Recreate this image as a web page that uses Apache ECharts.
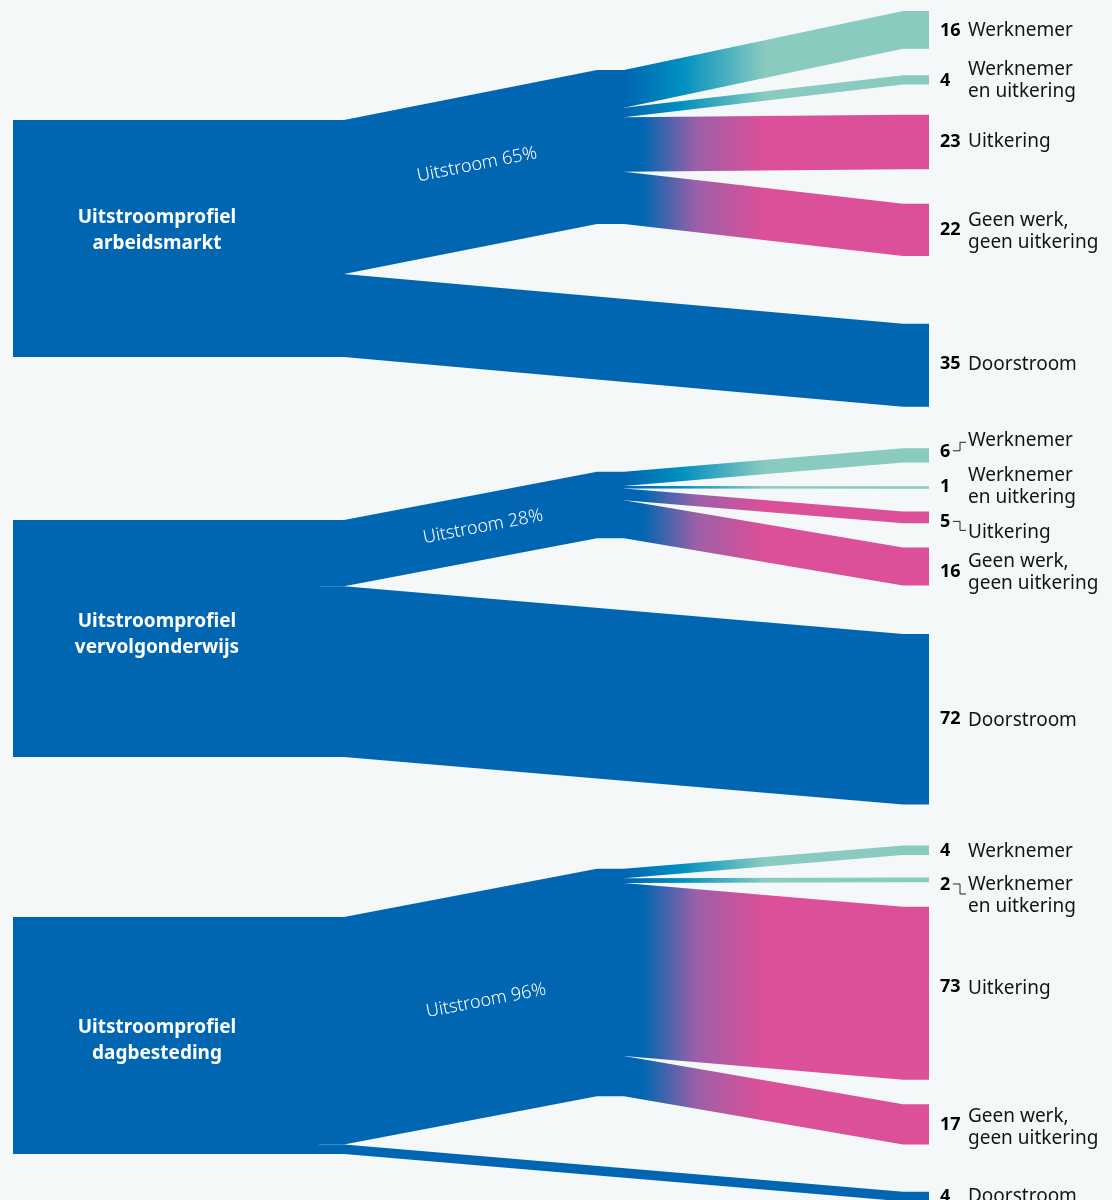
<!DOCTYPE html>
<html>
<head>
<meta charset="utf-8">
<script src="https://cdn.jsdelivr.net/npm/echarts@6/dist/echarts.min.js"></script>
<style>
html,body{margin:0;padding:0;background:#f4f8f9;}
#chart{width:1112px;height:1200px;}
</style>
</head>
<body>
<div id="chart"></div>
<script>
// ---------------- DATA ----------------
const profiles = ['Uitstroomprofiel\narbeidsmarkt', 'Uitstroomprofiel\nvervolgonderwijs', 'Uitstroomprofiel\ndagbesteding'];
const outcomes = ['Werknemer', 'Werknemer\nen uitkering', 'Uitkering', 'Geen werk,\ngeen uitkering', 'Doorstroom'];
const uitstroomPct = [65, 28, 96];
const arbeidsmarkt = [16, 4, 23, 22, 35];
const vervolgonderwijs = [6, 1, 5, 16, 72];
const dagbesteding = [4, 2, 73, 17, 4];
const panelValues = [arbeidsmarkt, vervolgonderwijs, dagbesteding];

// ---------------- LAYOUT / STYLE ----------------
const W = 1112, H = 1200;
const PX_PER_PT = 2.37;               // vertical scale: px per percentage point
const X = {left0: 13, left1: 319, stubL: 25, mid0: 597, mid1: 624, right: 929, stubR: 26,
           num: 940, name: 968, profLabel: 157, uitLabel: 480, conn0: 953, conn1: 960, conn2: 966};
const panelLayout = [
  {top: 50.6, midOff: -21.1, rightOff: -46.0, gaps: [11.1, 12.7, 14.6, 28.6], profDy: -8, uitDx: -3, uitDy: -6,
   numDy: [1, 1, 0, 0, -1], nameDy: [1, 1, 0, 2, -1], connectors: []},
  {top: 219.4, midOff: -20.3, rightOff: -30.3, gaps: [10.1, 9.6, 10.2, 20.5], profDy: -4, uitDx: 3, uitDy: 0,
   numDy: [-3.5, -1, 5, 5, 0], nameDy: [-15, -0.5, 15, 6, 1], connectors: [0, 2]},
  {top: 386.9, midOff: -20.3, rightOff: -30.1, gaps: [9.5, 10.3, 10.3, 20.0], profDy: 5, uitDx: 6, uitDy: -3,
   numDy: [1, 5, -6, 1, 0], nameDy: [1, 16, -5, 3, 0], connectors: [1]}
];
const outcomeStyle = [1, 1, 2, 2, 0];   // 0 blue, 1 teal gradient, 2 pink gradient
const COLORS = {blue: '#0066b2', teal: '#89cbbf', pink: '#dc4f99', bg: '#f4f8f9', text: '#141414'};
const GRAD = {
  1: {x0: 626, x1: 765, stops: [[0, '#0066b2'], [0.4, '#0090c0'], [1, '#89cbbf']]},
  2: {x0: 642, x1: 762, stops: [[0, '#0066b2'], [0.45, '#9b60a8'], [1, '#dc4f99']]}
};
const FONT = '"Noto Sans", "Open Sans", sans-serif';

// ---------------- BUILD ELEMENTS FROM DATA ----------------
const nodes = [];   // [x0, y0, x1, y1]
const links = [];   // [sx, ss, s0, s1, tx, ts, t0, t1, style]
const labels = [];  // descriptors

panelValues.forEach((vals, p) => {
  const L = panelLayout[p];
  const total = vals.reduce((a, b) => a + b, 0);
  const uit = uitstroomPct[p];
  const top = L.top;
  const midTop = top + L.midOff;
  nodes.push([X.left0, top, X.left1, top + total]);
  nodes.push([X.mid0, midTop, X.mid1, midTop + uit]);
  // left -> mid (Uitstroom)
  links.push([X.left1, X.stubL, top, top + uit, X.mid0, 0, midTop, midTop + uit, 0]);
  // right nodes
  let rTop = top + L.rightOff;
  let midCum = midTop;
  vals.forEach((v, i) => {
    if (i < 4) {
      links.push([X.mid1, 0, midCum, midCum + v, X.right, X.stubR, rTop, rTop + v, outcomeStyle[i]]);
      midCum += v;
    } else {
      links.push([X.left1, X.stubL, top + uit, top + total, X.right, X.stubR, rTop, rTop + v, outcomeStyle[i]]);
    }
    const c = rTop + v / 2;
    labels.push({kind: 'num', x: X.num, y: c, dy: L.numDy[i], text: String(v)});
    labels.push({kind: 'name', x: X.name, y: c, dy: L.nameDy[i], text: outcomes[i]});
    if (L.connectors.indexOf(i) >= 0) {
      labels.push({kind: 'conn', x: X.conn0, y: c, dyA: L.numDy[i], dyB: L.nameDy[i]});
    }
    rTop += v + (i < 4 ? L.gaps[i] : 0);
  });
  // profile label
  labels.push({kind: 'prof', x: X.profLabel, y: top + total / 2, dy: L.profDy, text: profiles[p]});
  // uitstroom label along the link
  const ax = X.left1 + X.stubL, bx = X.mid0;
  const lx = X.uitLabel + L.uitDx;
  const f = (lx - ax) / (bx - ax);
  const ly = (top + uit / 2) + f * ((midTop + uit / 2) - (top + uit / 2));
  labels.push({kind: 'uit', x: lx, y: ly, dy: L.uitDy, text: 'Uitstroom ' + uit + '%',
               a: [ax, top], b: [bx, midTop]});
});

// ---------------- RENDER ----------------
function gradFill(api, g) {
  const gx0 = api.coord([g.x0, 0])[0], gx1 = api.coord([g.x1, 0])[0];
  return {type: 'linear', x: gx0, y: 0, x2: gx1, y2: 0, global: true,
          colorStops: g.stops.map(s => ({offset: s[0], color: s[1]}))};
}

function renderLink(params, api) {
  const v = k => api.value(k);
  const sx = v(0), ss = v(1), s0 = v(2), s1 = v(3), tx = v(4), ts = v(5), t0 = v(6), t1 = v(7), st = v(8);
  const c = (x, y) => api.coord([x, y]);
  const points = [c(sx, s0), c(sx + ss, s0), c(tx - ts, t0), c(tx, t0),
                  c(tx, t1), c(tx - ts, t1), c(sx + ss, s1), c(sx, s1)];
  const fill = st === 0 ? COLORS.blue : gradFill(api, GRAD[st]);
  return {type: 'polygon', shape: {points: points}, style: {fill: fill, stroke: null}};
}

function renderNode(params, api) {
  const a = api.coord([api.value(0), api.value(1)]);
  const b = api.coord([api.value(2), api.value(3)]);
  return {type: 'rect', shape: {x: a[0], y: a[1], width: b[0] - a[0], height: b[1] - a[1]},
          style: {fill: COLORS.blue}};
}

function renderLabel(params, api) {
  const d = labels[params.dataIndex];
  const p = api.coord([api.value(0), api.value(1)]);
  if (d.kind === 'num') {
    return {type: 'text', x: p[0], y: p[1] + d.dy,
            style: {text: d.text, fill: '#000', fontFamily: FONT, fontWeight: 'bold', fontSize: 18,
                    align: 'left', verticalAlign: 'middle'}};
  }
  if (d.kind === 'name') {
    return {type: 'text', x: p[0], y: p[1] + d.dy,
            style: {text: d.text, fill: COLORS.text, fontFamily: FONT, fontSize: 19, lineHeight: 22,
                    align: 'left', verticalAlign: 'middle'}};
  }
  if (d.kind === 'conn') {
    const x1 = api.coord([X.conn1, 0])[0], x2 = api.coord([X.conn2, 0])[0];
    const yA = p[1] + d.dyA - 1;
    const yB = p[1] + d.dyB + (d.dyB < d.dyA ? 2 : -2);
    return {type: 'polyline', shape: {points: [[p[0], yA], [x1, yA], [x1, yB], [x2, yB]]},
            style: {stroke: '#222', lineWidth: 1, fill: null}};
  }
  if (d.kind === 'prof') {
    return {type: 'text', x: p[0], y: p[1] + d.dy,
            style: {text: d.text, fill: '#ffffff', fontFamily: FONT, fontWeight: 'bold', fontSize: 19,
                    lineHeight: 26, align: 'center', verticalAlign: 'middle'}};
  }
  if (d.kind === 'uit') {
    const a = api.coord(d.a), b = api.coord(d.b);
    const ang = Math.atan2(a[1] - b[1], b[0] - a[0]);
    return {type: 'text', x: p[0], y: p[1] + d.dy, rotation: ang,
            style: {text: d.text, fill: '#ffffff', fontFamily: FONT, fontWeight: 300, fontSize: 18,
                    align: 'center', verticalAlign: 'middle'}};
  }
  return null;
}

const chart = echarts.init(document.getElementById('chart'), null, {renderer: 'canvas', width: W, height: H});
chart.setOption({
  backgroundColor: COLORS.bg,
  animation: false,
  grid: {left: 0, right: 0, top: 0, bottom: 0, containLabel: false},
  xAxis: {type: 'value', min: 0, max: W, show: false},
  yAxis: {type: 'value', min: 0, max: H / PX_PER_PT, inverse: true, show: false},
  tooltip: {show: false},
  series: [
    {type: 'custom', name: 'links', renderItem: renderLink, data: links, silent: true, clip: false},
    {type: 'custom', name: 'nodes', renderItem: renderNode, data: nodes, silent: true, clip: false},
    {type: 'custom', name: 'labels', renderItem: renderLabel,
     data: labels.map(l => [l.x, l.y]), silent: true, clip: false}
  ]
});
</script>
</body>
</html>
